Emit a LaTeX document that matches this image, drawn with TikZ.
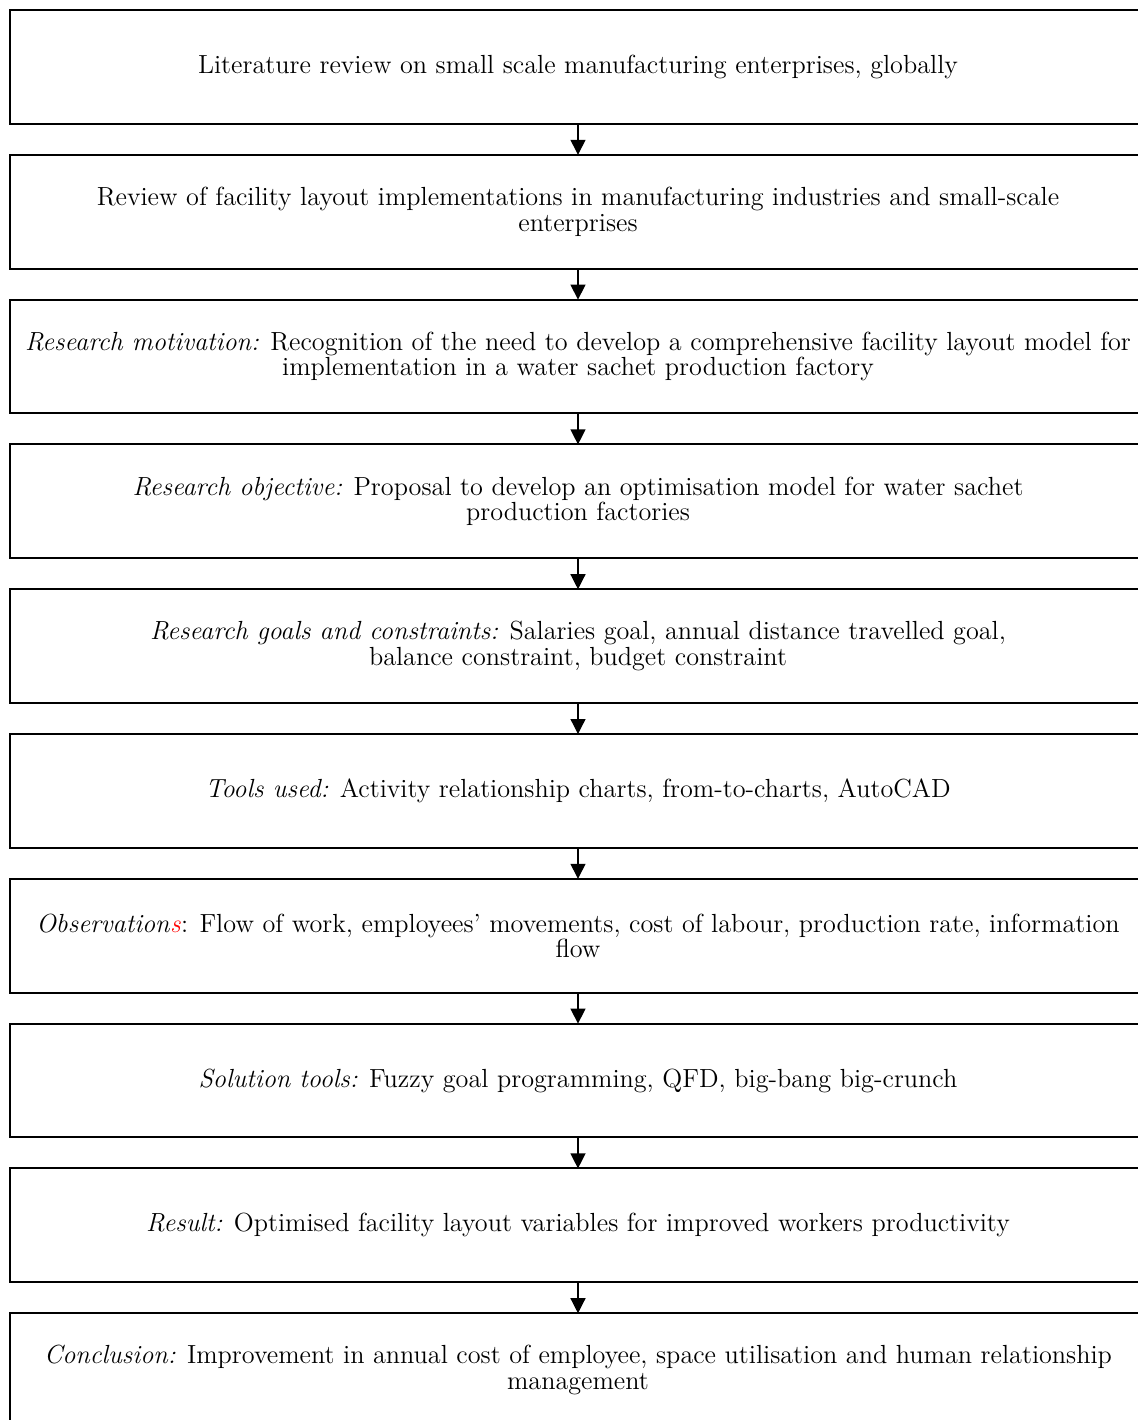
\documentclass[tikz,border=0pt]{standalone}
\usepackage{fontspec}
\usepackage{tikz}
\usetikzlibrary{positioning}
\usetikzlibrary{arrows.meta}

\tikzset{
  stage/.style={draw, line width=1pt, outer sep=0pt, inner sep=0pt,
    minimum width=568pt, minimum height=56.9pt, align=center,
    font=\fontsize{13.1}{12.7}\selectfont},
  flow/.style={line width=0.65pt, -{Triangle[width=7.5pt,length=7.5pt]}}
}

\begin{document}
\begin{tikzpicture}[x=0.5pt,y=-0.5pt]

\useasboundingbox (0,0) rectangle (1137,1420);

\node[stage] (b1) at (578,66.9) {Literature review on small scale manufacturing enterprises, globally};
\node[stage, below=15.5pt of b1] (b2) {Review of facility layout implementations in manufacturing industries and small-scale\\enterprises};
\node[stage, below=15.5pt of b2] (b3) {\textit{Research motivation:} Recognition of the need to develop a comprehensive facility layout model for\\implementation in a water sachet production factory};
\node[stage, below=15.5pt of b3] (b4) {\textit{Research objective:} Proposal to develop an optimisation model for water sachet\\production factories};
\node[stage, below=15.5pt of b4] (b5) {\textit{Research goals and constraints:} Salaries goal, annual distance travelled goal,\\balance constraint, budget constraint};
\node[stage, below=15.5pt of b5] (b6) {\textit{Tools used:} Activity relationship charts, from-to-charts, AutoCAD};
\node[stage, below=15.5pt of b6] (b7) {\textit{Observation}\textcolor{red}{\textit{s}}: Flow of work, employees’ movements, cost of labour, production rate, information\\flow};
\node[stage, below=15.5pt of b7] (b8) {\textit{Solution tools:} Fuzzy goal programming, QFD, big-bang big-crunch};
\node[stage, below=15.5pt of b8] (b9) {\textit{Result:} Optimised facility layout variables for improved workers productivity};
\node[stage, below=15.5pt of b9] (b10) {\textit{Conclusion:} Improvement in annual cost of employee, space utilisation and human relationship\\management};

\foreach \i [evaluate=\i as \j using int(\i+1)] in {1,...,9}
    \draw[flow] (b\i) -- (b\j);

\end{tikzpicture}
\end{document}
